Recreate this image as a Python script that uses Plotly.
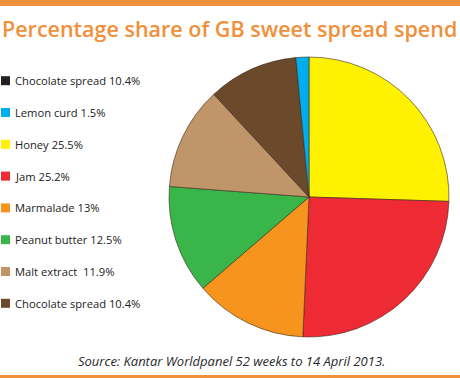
import plotly.graph_objects as go

# Pie data (clockwise from 12 o'clock)
pie_labels = ["Honey", "Jam", "Marmalade", "Peanut butter", "Malt extract", "Chocolate spread", "Lemon curd"]
pie_values = [25.5, 25.2, 13.0, 12.5, 11.9, 10.4, 1.5]
pie_colors = ["#FFF200", "#EE2A35", "#F7941D", "#39B54A", "#C0956A", "#6B4A2B", "#00AEEF"]

# Legend entries as printed
legend_labels = ["Chocolate spread 10.4%", "Lemon curd 1.5%", "Honey 25.5%", "Jam 25.2%",
                 "Marmalade 13%", "Peanut butter 12.5%", "Malt extract  11.9%", "Chocolate spread 10.4%"]
legend_colors = ["#231F20", "#00AEEF", "#FFF200", "#EE2A35", "#F7941D", "#39B54A", "#C0956A", "#6B4A2B"]

title_text = "Percentage share of GB sweet spread spend"
source_text = "Source: Kantar Worldpanel 52 weeks to 14 April 2013."

W, H = 460, 378
ORANGE = "#F0903A"

fig = go.Figure()
fig.add_trace(go.Pie(
    labels=pie_labels, values=pie_values, sort=False, direction="clockwise", rotation=0,
    marker=dict(colors=pie_colors, line=dict(color="#3a2a1a", width=0.6)),
    textinfo="none", showlegend=False, hoverinfo="skip",
    domain=dict(x=[169 / W, 449 / W], y=[(H - 337) / H, (H - 57) / H]),
))

shapes = [
    dict(type="rect", xref="paper", yref="paper", x0=0, x1=1, y0=(H - 6) / H, y1=1,
         fillcolor=ORANGE, line=dict(width=0)),
    dict(type="rect", xref="paper", yref="paper", x0=0, x1=1, y0=0, y1=3 / H,
         fillcolor=ORANGE, line=dict(width=0)),
]
annotations = [
    dict(text=title_text, xref="paper", yref="paper", x=0, y=(H - 28) / H,
         xanchor="left", yanchor="middle", showarrow=False,
         font=dict(family="Open Sans", size=21.5, color=ORANGE, weight=600)),
    dict(text=source_text, xref="paper", yref="paper", x=231 / W, y=(H - 361) / H,
         xanchor="center", yanchor="middle", showarrow=False,
         font=dict(family="Open Sans", size=13, color="#2a2a2a", style="italic")),
]
row0, step = 80.7, 31.8
for i, (lab, col) in enumerate(zip(legend_labels, legend_colors)):
    yc = row0 + i * step
    shapes.append(dict(type="rect", xref="paper", yref="paper",
                       x0=1 / W, x1=10 / W, y0=(H - yc - 4.5) / H, y1=(H - yc + 4.5) / H,
                       fillcolor=col, line=dict(width=0)))
    annotations.append(dict(text=lab, xref="paper", yref="paper", x=13 / W, y=(H - yc) / H,
                            xanchor="left", yanchor="middle", showarrow=False,
                            font=dict(family="Open Sans", size=11.2, color="#222222")))

fig.update_layout(width=W, height=H, margin=dict(l=0, r=0, t=0, b=0),
                  paper_bgcolor="white", plot_bgcolor="white",
                  shapes=shapes, annotations=annotations)
fig.write_html("out.html", config={"displayModeBar": False},
               post_script="document.body.style.margin='0px';document.body.style.overflow='hidden';")
